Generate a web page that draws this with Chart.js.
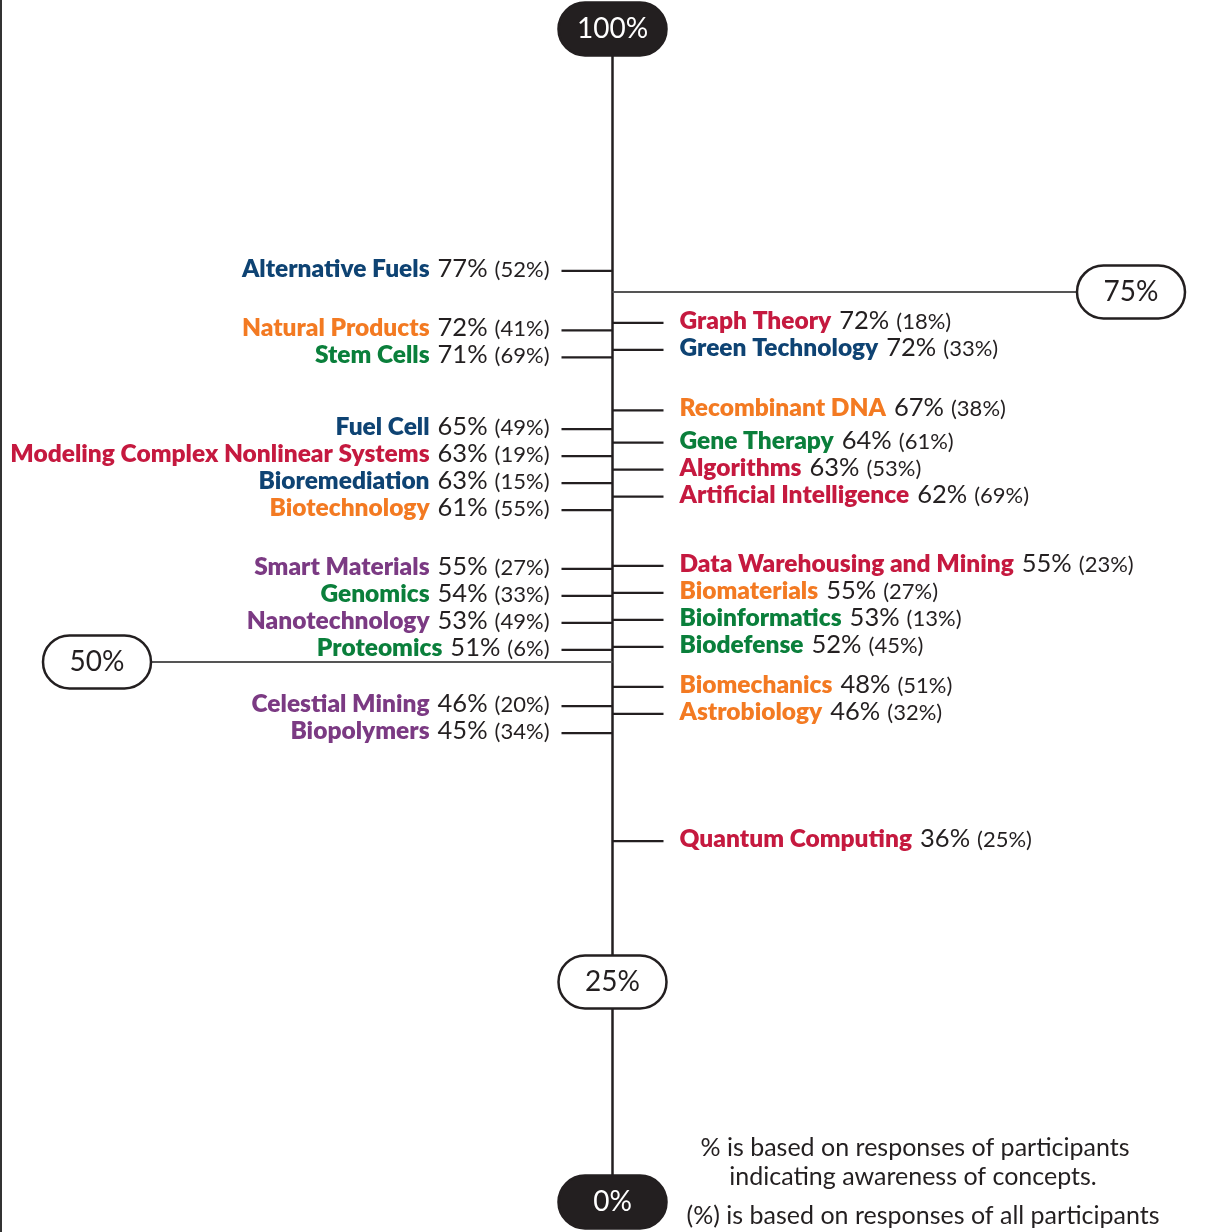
<!DOCTYPE html>
<html><head><meta charset="utf-8">
<script src="https://cdn.jsdelivr.net/npm/chart.js@4.4.1/dist/chart.umd.min.js"></script>
<style>html,body{margin:0;padding:0;background:#fff}#wrap{width:1225px;height:1232px;position:relative}</style>
</head><body><div id="wrap"><canvas id="c"></canvas></div>
<script>
// ---------- data ----------
const tickValues = [100, 75, 50, 25, 0];

const leftConcepts = ["Alternative Fuels","Natural Products","Stem Cells","Fuel Cell","Modeling Complex Nonlinear Systems","Bioremediation","Biotechnology","Smart Materials","Genomics","Nanotechnology","Proteomics","Celestial Mining","Biopolymers"];
const leftAware = [77,72,71,65,63,63,61,55,54,53,51,46,45];
const leftAll   = [52,41,69,49,19,15,55,27,33,49,6,20,34];
const leftGroup = ["energy","biotech","life","energy","computing","energy","biotech","materials","life","materials","life","materials","materials"];

const rightConcepts = ["Graph Theory","Green Technology","Recombinant DNA","Gene Therapy","Algorithms","Artificial Intelligence","Data Warehousing and Mining","Biomaterials","Bioinformatics","Biodefense","Biomechanics","Astrobiology","Quantum Computing"];
const rightAware = [72,72,67,64,63,62,55,55,53,52,48,46,36];
const rightAll   = [18,33,38,61,53,69,23,27,13,45,51,32,25];
const rightGroup = ["computing","energy","biotech","life","computing","computing","computing","biotech","life","life","biotech","biotech","computing"];

const footnotes = ["% is based on responses of participants","indicating awareness of concepts.","(%) is based on responses of all participants"];

// ---------- styles ----------
const palette = {energy:"#0e4373", biotech:"#f37a22", life:"#0a7f3b", computing:"#c5193f", materials:"#7b3a83"};
const ink = "#231f20";
const FONT = "Lato";

// axis warp: fraction of axis height (from bottom) at each tick value
const axisAnchors = {values:[0,25,50,75,100], fracs:[0,0.1876,0.4604,0.7758,1]};
function warp(v){
  const a=axisAnchors.values,f=axisAnchors.fracs;
  for(let i=1;i<a.length;i++){ if(v<=a[i]){ const t=(v-a[i-1])/(a[i]-a[i-1]); return f[i-1]+t*(f[i]-f[i-1]); } }
  return 1;
}
function unwarp(fr){
  const a=axisAnchors.values,f=axisAnchors.fracs;
  for(let i=1;i<f.length;i++){ if(fr<=f[i]){ const t=(fr-f[i-1])/(f[i]-f[i-1]); return a[i-1]+t*(a[i]-a[i-1]); } }
  return 100;
}
class WarpScale extends Chart.LinearScale {
  getPixelForValue(v){ return this.bottom - warp(v)*(this.bottom-this.top); }
  getValueForPixel(p){ return unwarp((this.bottom-p)/(this.bottom-this.top)); }
}
WarpScale.id = 'warp';
WarpScale.defaults = Chart.LinearScale.defaults;
Chart.register(WarpScale);

function spread(ys, gap){
  const stack=[];
  for(const y of ys){
    let c={sum:y,n:1,top:y};
    while(stack.length){
      const p=stack[stack.length-1];
      const pb=p.top+(p.n-1)*gap;
      if(c.top-pb<gap){ stack.pop(); const n=p.n+c.n,sum=p.sum+c.sum; c={sum,n,top:sum/n-(n-1)*gap/2}; }
      else break;
    }
    stack.push(c);
  }
  const out=[]; for(const c of stack) for(let k=0;k<c.n;k++) out.push(c.top+k*gap);
  return out;
}
// keep labels on their own side of a reference line
function clearLine(pos, vals, t, lineY, margin, gap){
  for(let k=pos.length-1;k>=0;k--){
    if(vals[k]>t && pos[k]>lineY-margin){
      pos[k]=lineY-margin;
      for(let j=k-1;j>=0;j--){ if(pos[j]>pos[j+1]-gap) pos[j]=pos[j+1]-gap; else break; }
    }
  }
  return pos;
}

function pill(ctx,cx,cy,w,h,filled){
  const r=h/2;
  ctx.beginPath();
  ctx.moveTo(cx-w/2+r,cy-h/2); ctx.lineTo(cx+w/2-r,cy-h/2);
  ctx.arc(cx+w/2-r,cy,r,-Math.PI/2,Math.PI/2);
  ctx.lineTo(cx-w/2+r,cy+h/2);
  ctx.arc(cx-w/2+r,cy,r,Math.PI/2,Math.PI*1.5);
  ctx.closePath();
  ctx.fillStyle=filled?ink:"#fff"; ctx.fill();
  ctx.lineWidth=2.5; ctx.strokeStyle=ink; ctx.stroke();
}

const labelsPlugin = {
  id:'conceptLabels',
  afterDatasetsDraw(chart){
    const ctx=chart.ctx, xs=chart.scales.x, ys=chart.scales.y;
    const ax=xs.getPixelForValue(0);
    ctx.save();
    // frame line at left
    ctx.strokeStyle="#333"; ctx.lineWidth=2;
    ctx.beginPath(); ctx.moveTo(1,0); ctx.lineTo(1,chart.height); ctx.stroke();
    // main axis
    ctx.strokeStyle=ink; ctx.lineWidth=2.5;
    ctx.beginPath(); ctx.moveTo(ax,ys.getPixelForValue(100)); ctx.lineTo(ax,ys.getPixelForValue(0)); ctx.stroke();

    // reference lines to side badges
    const bw=108,bh=53;
    const badgeX={100:ax,75:chart.chartArea.right-94,50:97,25:ax,0:ax};
    tickValues.forEach(v=>{
      const y=Math.round(ys.getPixelForValue(v)), cx=badgeX[v];
      if(cx!==ax){
        ctx.strokeStyle="#555"; ctx.lineWidth=2;
        ctx.beginPath();
        if(cx>ax){ctx.moveTo(ax,y); ctx.lineTo(cx-bw/2,y);} else {ctx.moveTo(cx+bw/2,y); ctx.lineTo(ax,y);}
        ctx.stroke();
      }
    });

    const sides=[
      {meta:chart.getDatasetMeta(0), names:leftConcepts, aw:leftAware, al:leftAll, gr:leftGroup, dir:-1},
      {meta:chart.getDatasetMeta(1), names:rightConcepts, aw:rightAware, al:rightAll, gr:rightGroup, dir:1}
    ];
    const nameF="800 24.5px "+FONT, valF="400 25.5px "+FONT, parF="400 22px "+FONT;
    for(const s of sides){
      const base=s.meta.data.map(e=>e.y);
      let pos=spread(base,27);
      tickValues.forEach(v=>{
        const onSide = (badgeX[v]-ax)*s.dir>0;
        if(onSide) pos=clearLine(pos,s.aw,v,ys.getPixelForValue(v),12,27);
      });
      pos.forEach((y,i)=>{
        ctx.strokeStyle=ink; ctx.lineWidth=2.2;
        ctx.beginPath();
        ctx.moveTo(ax, y); ctx.lineTo(ax+s.dir*51, y); ctx.stroke();
        const name=s.names[i], val=s.aw[i]+"%", par="("+s.al[i]+"%)";
        ctx.font=nameF; const wn=ctx.measureText(name).width;
        ctx.font=valF; const wv=ctx.measureText(val).width;
        ctx.font=parF; const wp=ctx.measureText(par).width;
        const g1=8,g2=7;
        const total=wn+g1+wv+g2+wp;
        let x0 = s.dir<0 ? ax-63-total : ax+67;
        ctx.textBaseline="alphabetic"; ctx.textAlign="left";
        const bl=y+6;
        ctx.font=nameF; ctx.fillStyle=palette[s.gr[i]]; ctx.fillText(name,x0,bl);
        ctx.font=valF; ctx.fillStyle=ink; ctx.fillText(val,x0+wn+g1,bl);
        ctx.font=parF; ctx.fillText(par,x0+wn+g1+wv+g2,bl);
      });
    }

    // tick badges
    tickValues.forEach(v=>{
      const y=ys.getPixelForValue(v), cx=badgeX[v];
      const filled=(v===100||v===0);
      pill(ctx,cx,y,bw,bh,filled);
      ctx.font="400 28px "+FONT; ctx.textAlign="center"; ctx.textBaseline="middle";
      ctx.fillStyle=filled?"#fff":ink; ctx.fillText(v+"%",cx,y);
    });

    // footnotes
    ctx.font="400 25px "+FONT; ctx.fillStyle=ink; ctx.textAlign="center"; ctx.textBaseline="middle";
    const fy=[1148,1177,1216], fx=[915,913,923];
    footnotes.forEach((t,i)=>ctx.fillText(t,fx[i],fy[i]));
    ctx.restore();
  }
};

new Chart(document.getElementById('c'),{
  type:'scatter',
  data:{datasets:[
    {label:'left', data:leftAware.map(v=>({x:-0.05,y:v})), pointRadius:0},
    {label:'right', data:rightAware.map(v=>({x:0.05,y:v})), pointRadius:0}
  ]},
  options:{
    responsive:true, maintainAspectRatio:false, animation:false,
    layout:{padding:{top:29,bottom:30,left:0,right:0}},
    plugins:{legend:{display:false},tooltip:{enabled:false}},
    scales:{
      x:{type:'linear',min:-1,max:1,display:false},
      y:{type:'warp',min:0,max:100,display:false}
    }
  },
  plugins:[labelsPlugin]
});
</script></body></html>
